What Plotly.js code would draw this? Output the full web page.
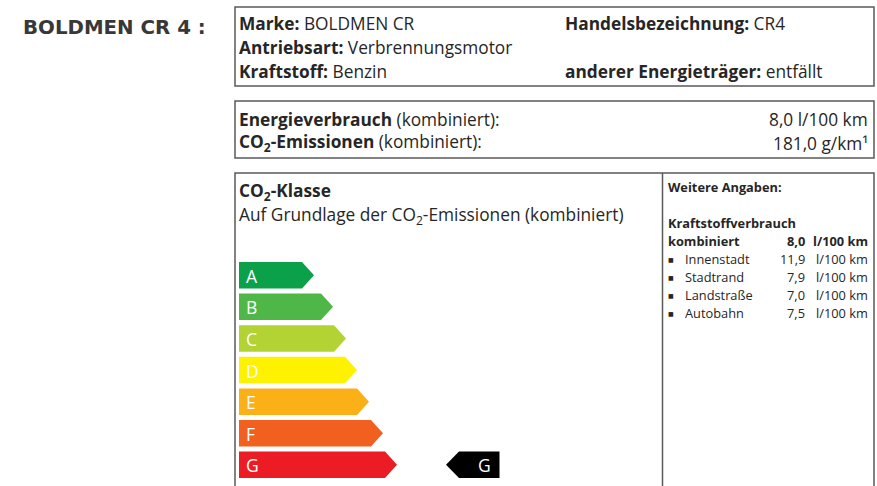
<!DOCTYPE html>
<html>
<head>
<meta charset="utf-8">
<script src="https://cdn.plot.ly/plotly-3.0.1.min.js"></script>
<style>html,body{margin:0;padding:0;background:#fff;}#chart{width:877px;height:486px;}</style>
</head>
<body>
<div id="chart"></div>
<script>
// ---- data ----
var modelTitle = 'BOLDMEN CR 4 :';
var marke = 'BOLDMEN CR';
var handelsbezeichnung = 'CR4';
var antriebsart = 'Verbrennungsmotor';
var kraftstoff = 'Benzin';
var andererEnergietraeger = 'entfällt';
var energieverbrauch = 8.0;   // l/100 km
var co2Emissionen = 181.0;    // g/km
var classes = ['A', 'B', 'C', 'D', 'E', 'F', 'G'];
var classArrowLength = [75, 94, 107, 118, 130, 144, 158];
var classColors = ['#0ba14b', '#4fb748', '#b3d234', '#fff200', '#fbb017', '#f1601f', '#ec1c24'];
var currentClass = 'G';
var consumptionLabels = ['Innenstadt', 'Stadtrand', 'Landstraße', 'Autobahn'];
var consumptionValues = [11.9, 7.9, 7.0, 7.5];
var consumptionCombined = 8.0;

// ---- helpers ----
function de(v) { return v.toFixed(1).replace('.', ','); }
var FONT = '"Open Sans", "Noto Sans", sans-serif';
var TXT = '#262626';

var traces = [];
var annotations = [];
var shapes = [];

function ann(x, y, text, size, opts) {
  opts = opts || {};
  annotations.push({
    x: x, y: y, xref: 'x', yref: 'y', text: text, showarrow: false,
    xanchor: opts.xanchor || 'left', yanchor: 'middle',
    font: {family: opts.family || FONT, size: size, color: opts.color || TXT},
    borderpad: 0
  });
}
function box(x0, y0, x1, y1) {
  shapes.push({type: 'rect', xref: 'x', yref: 'y', x0: x0, y0: y0, x1: x1, y1: y1,
    line: {color: '#5a5a5a', width: 1.5}, fillcolor: 'rgba(0,0,0,0)'});
}

// Header
ann(22, 27, '<b>' + modelTitle + '</b>', 19.8, {family: '"DejaVu Sans", sans-serif', color: '#383838'});

// Box 1
var FM = 17.3;
box(235, 7, 874, 86);
ann(238, 23, '<b>Marke:</b> ' + marke, FM);
ann(564, 23, '<b>Handelsbezeichnung:</b> ' + handelsbezeichnung, FM);
ann(238, 47, '<b>Antriebsart:</b> ' + antriebsart, FM);
ann(238, 71, '<b>Kraftstoff:</b> ' + kraftstoff, FM);
ann(564, 71, '<b>anderer Energieträger:</b> ' + andererEnergietraeger, FM);

// Box 2
box(235, 101, 874, 158);
ann(238, 119, '<b>Energieverbrauch</b> (kombiniert):', FM);
ann(869, 119, de(energieverbrauch) + ' l/100 km', FM, {xanchor: 'right'});
ann(238, 143, '<b>CO<sub>2</sub>-Emissionen</b> (kombiniert):', FM);
ann(869, 143, de(co2Emissionen) + ' g/km¹', FM, {xanchor: 'right'});

// Box 3
shapes.push({type: 'path', xref: 'x', yref: 'y',
  path: 'M235,492 L235,173 L874,173 L874,492', line: {color: '#5a5a5a', width: 1.5}});
shapes.push({type: 'line', xref: 'x', yref: 'y', x0: 662.5, y0: 173, x1: 662.5, y1: 492,
  line: {color: '#5a5a5a', width: 1.5}});
ann(238, 191.5, '<b>CO<sub>2</sub>-Klasse</b>', FM);
ann(238, 215.5, 'Auf Grundlage der CO<sub>2</sub>-Emissionen (kombiniert)', FM);

// Class arrows
var x0 = 239, top0 = 262, pitch = 31.6, h = 26.5, tip = 12;
classes.forEach(function (c, i) {
  var t = top0 + i * pitch, b = t + h, m = (t + b) / 2, L = classArrowLength[i];
  traces.push({
    type: 'scatter', mode: 'lines', fill: 'toself', fillcolor: classColors[i],
    line: {width: 0, color: classColors[i]}, hoverinfo: 'skip', showlegend: false,
    x: [x0, x0 + L - tip, x0 + L, x0 + L - tip, x0, x0],
    y: [t, t, m, b, b, t]
  });
  ann(x0 + 6, m + 0.5, c, 17.5, {color: '#ffffff'});
});

// Current class indicator
var ci = classes.indexOf(currentClass);
(function () {
  var t = top0 + ci * pitch, b = t + h, m = (t + b) / 2;
  var xl = 446, xr = 499.5, d = 13;
  traces.push({
    type: 'scatter', mode: 'lines', fill: 'toself', fillcolor: '#000000',
    line: {width: 0, color: '#000'}, hoverinfo: 'skip', showlegend: false,
    x: [xl, xl + d, xr, xr, xl + d, xl],
    y: [m, t, t, b, b, m]
  });
  ann(484, m + 0.5, currentClass, 17.5, {color: '#ffffff', xanchor: 'center'});
})();

// Right panel
var FS = 12.8;
ann(667, 187, '<b>Weitere Angaben:</b>', FS);
ann(667, 223, '<b>Kraftstoffverbrauch</b>', FS);
ann(667, 241, '<b>kombiniert</b>', FS);
ann(806, 241, '<b>' + de(consumptionCombined) + '</b>', FS, {xanchor: 'right'});
ann(869, 241, '<b>l/100 km</b>', FS, {xanchor: 'right'});
consumptionLabels.forEach(function (lab, i) {
  var y = 259 + i * 18;
  ann(667, y, '■', 6, {family: '"DejaVu Sans", sans-serif'});
  ann(684, y, lab, FS);
  ann(806, y, de(consumptionValues[i]), FS, {xanchor: 'right'});
  ann(869, y, 'l/100 km', FS, {xanchor: 'right'});
});

var layout = {
  width: 877, height: 486,
  margin: {l: 0, r: 0, t: 0, b: 0, pad: 0},
  paper_bgcolor: '#ffffff', plot_bgcolor: '#ffffff',
  showlegend: false,
  xaxis: {range: [0, 877], visible: false, fixedrange: true},
  yaxis: {range: [486, 0], visible: false, fixedrange: true},
  annotations: annotations,
  shapes: shapes
};
Plotly.newPlot('chart', traces, layout, {displayModeBar: false, staticPlot: true});
</script>
</body>
</html>
